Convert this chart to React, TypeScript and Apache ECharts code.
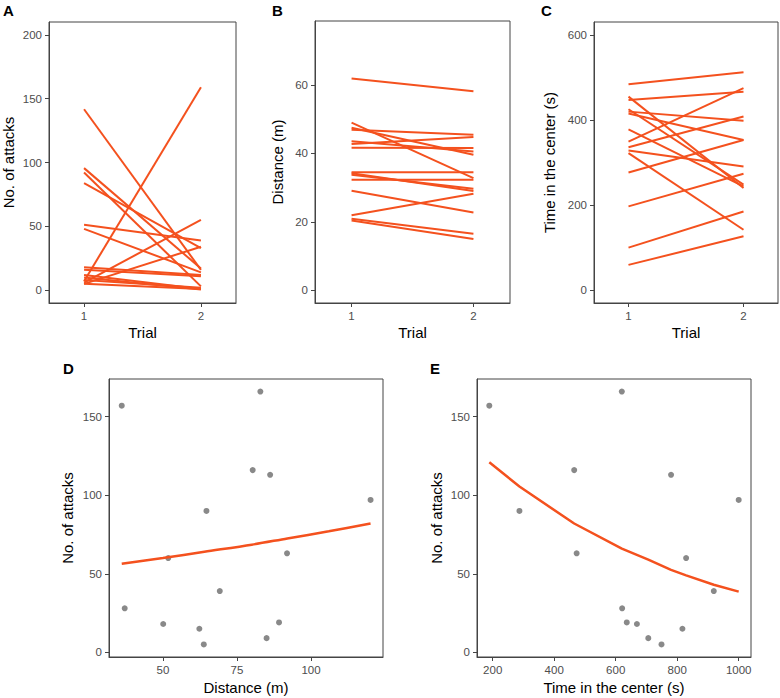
import React, { useEffect, useRef } from "react";
import * as echarts from "echarts";

// ---- Data ----
const trialTicks = [1, 2];

// Panel A: No. of attacks, trial 1 -> trial 2
const attacksTrial1 = [141.7, 7, 95.6, 92.2, 83.9, 51.3, 48, 6, 5, 18, 16, 12, 10, 8, 5];
const attacksTrial2 = [16, 159, 17, 3, 33, 39, 14, 55, 34, 12, 11, 1, 0.5, 2, 1];
const attacksTicks = [0, 50, 100, 150, 200];

// Panel B: Distance (m)
const distanceTrial1 = [61.9, 49.0, 47.5, 46.9, 43.6, 42.8, 41.7, 34.5, 34.2, 33.8, 32.3, 29.1, 21.9, 20.9, 20.4];
const distanceTrial2 = [58.2, 32.8, 39.6, 45.5, 40.6, 44.8, 41.6, 34.5, 29.0, 29.7, 32.3, 22.7, 28.2, 16.5, 15.0];
const distanceTicks = [0, 20, 40, 60];

// Panel C: Time in the center (s)
const timeTrial1 = [483.7, 447, 454.7, 425, 419.5, 415, 378, 349, 336, 328, 322, 276.5, 197, 100, 59.5];
const timeTrial2 = [512, 466, 240, 248, 398, 353, 244, 474.5, 408, 290.6, 142, 353, 273.5, 185, 126.6];
const timeTicks = [0, 200, 400, 600];

// Panel D: attacks vs distance
const distD = [36.1, 37.1, 50.1, 51.8, 62.3, 63.8, 64.7, 69.2, 80.3, 82.9, 85.0, 86.2, 89.2, 91.9, 120.1];
const attacksD = [157, 28, 18, 60, 15, 5, 90, 39, 116, 166, 9, 113, 19, 63, 97];
const fitDx = [36.1, 50, 64, 80, 92, 106, 120.1];
const fitDy = [56.4, 60, 64, 68.5, 72.5, 77, 82];
const distTicksD = [50, 75, 100];

// Panel E: attacks vs time in the center
const timeE = [189, 287, 465, 473, 620, 621, 636, 669, 706, 749, 780, 817, 829, 919, 1000];
const attacksE = [157, 90, 116, 63, 166, 28, 19, 18, 9, 5, 113, 15, 60, 39, 97];
const fitEx = [189, 287, 465, 620, 706, 780, 829, 919, 1000];
const fitEy = [121, 105.5, 82, 66, 59, 52.5, 49, 43, 38.6];
const timeTicksE = [200, 400, 600, 800, 1000];
const attacksTicksDE = [0, 50, 100, 150];

const FONT = "'Liberation Sans', Arial, Helvetica, sans-serif";
const LINE = "#F4511E";
const BORDER = "#444444";
const TICKLAB = "#4D4D4D";

function axis(
  min: number,
  max: number,
  ticks: number[],
  name: string,
  nameGap: number,
  vertical: boolean
) {
  return {
    type: "value",
    min,
    max,
    name,
    nameLocation: "middle",
    nameGap,
    nameRotate: vertical ? 90 : 0,
    nameTextStyle: { color: "#000", fontSize: 15, fontFamily: FONT },
    axisLine: { show: true, onZero: false, lineStyle: { color: BORDER, width: 1 } },
    axisTick: { show: true, length: 4, lineStyle: { color: BORDER }, customValues: ticks },
    axisLabel: {
      color: TICKLAB,
      fontSize: 11.5,
      fontFamily: FONT,
      margin: 7,
      customValues: ticks,
      formatter: (v: number) => String(v),
    },
    splitLine: { show: false },
  };
}

function pairSeries(t1: number[], t2: number[], idx: number) {
  return t1.map((v, i) => ({
    type: "line",
    xAxisIndex: idx,
    yAxisIndex: idx,
    data: [
      [trialTicks[0], v],
      [trialTicks[1], t2[i]],
    ],
    symbol: "none",
    silent: true,
    lineStyle: { color: LINE, width: 2 },
    z: 3,
  }));
}

export default function App() {
  const ref = useRef<HTMLDivElement>(null);

  useEffect(() => {
    if (!ref.current) return;
    const chart = echarts.init(ref.current, null, { renderer: "svg" });

    const gridBase = { show: true, borderColor: BORDER, borderWidth: 1, backgroundColor: "transparent", containLabel: false };

    const option: any = {
      animation: false,
      backgroundColor: "#ffffff",
      textStyle: { fontFamily: FONT },
      grid: [
        { ...gridBase, left: 48, top: 22, width: 188, height: 281 },
        { ...gridBase, left: 315, top: 21, width: 195, height: 282 },
        { ...gridBase, left: 594, top: 22, width: 184, height: 281 },
        { ...gridBase, left: 109, top: 379, width: 274, height: 278 },
        { ...gridBase, left: 477, top: 379, width: 274, height: 278 },
      ],
      xAxis: [
        { ...axis(0.7, 2.3, trialTicks, "Trial", 22, false), gridIndex: 0 },
        { ...axis(0.7, 2.3, trialTicks, "Trial", 22, false), gridIndex: 1 },
        { ...axis(0.7, 2.3, trialTicks, "Trial", 22, false), gridIndex: 2 },
        { ...axis(31.8, 124.3, distTicksD, "Distance (m)", 22.5, false), gridIndex: 3 },
        { ...axis(149, 1040, timeTicksE, "Time in the center (s)", 22.5, false), gridIndex: 4 },
      ],
      yAxis: [
        { ...axis(-10, 210, attacksTicks, "No. of attacks", 33, true), gridIndex: 0 },
        { ...axis(-3.75, 78.75, distanceTicks, "Distance (m)", 30, true), gridIndex: 1 },
        { ...axis(-30, 630, timeTicks, "Time in the center (s)", 37, true), gridIndex: 2 },
        { ...axis(-3, 174, attacksTicksDE, "No. of attacks", 34, true), gridIndex: 3 },
        { ...axis(-3, 174, attacksTicksDE, "No. of attacks", 33.5, true), gridIndex: 4 },
      ],
      series: [
        ...pairSeries(attacksTrial1, attacksTrial2, 0),
        ...pairSeries(distanceTrial1, distanceTrial2, 1),
        ...pairSeries(timeTrial1, timeTrial2, 2),
        {
          type: "scatter",
          xAxisIndex: 3,
          yAxisIndex: 3,
          data: distD.map((x, i) => [x, attacksD[i]]),
          symbolSize: 6,
          itemStyle: { color: "#6B6B6B" },
          silent: true,
        },
        {
          type: "line",
          xAxisIndex: 3,
          yAxisIndex: 3,
          data: fitDx.map((x, i) => [x, fitDy[i]]),
          symbol: "none",
          smooth: 0.3,
          silent: true,
          lineStyle: { color: LINE, width: 2.5 },
        },
        {
          type: "scatter",
          xAxisIndex: 4,
          yAxisIndex: 4,
          data: timeE.map((x, i) => [x, attacksE[i]]),
          symbolSize: 6,
          itemStyle: { color: "#6B6B6B" },
          silent: true,
        },
        {
          type: "line",
          xAxisIndex: 4,
          yAxisIndex: 4,
          data: fitEx.map((x, i) => [x, fitEy[i]]),
          symbol: "none",
          silent: true,
          lineStyle: { color: LINE, width: 2.5 },
        },
      ],
      graphic: [
        { type: "text", left: 3, top: 3, style: { text: "A", fontSize: 15, fontWeight: "bold", fontFamily: FONT, fill: "#000" } },
        { type: "text", left: 272, top: 3, style: { text: "B", fontSize: 15, fontWeight: "bold", fontFamily: FONT, fill: "#000" } },
        { type: "text", left: 541, top: 3, style: { text: "C", fontSize: 15, fontWeight: "bold", fontFamily: FONT, fill: "#000" } },
        { type: "text", left: 63, top: 361, style: { text: "D", fontSize: 15, fontWeight: "bold", fontFamily: FONT, fill: "#000" } },
        { type: "text", left: 430, top: 361, style: { text: "E", fontSize: 15, fontWeight: "bold", fontFamily: FONT, fill: "#000" } },
      ],
    };

    chart.setOption(option);
    return () => chart.dispose();
  }, []);

  return (
    <div
      ref={ref}
      style={{ position: "absolute", left: 0, top: 0, width: 780, height: 698 }}
    />
  );
}
